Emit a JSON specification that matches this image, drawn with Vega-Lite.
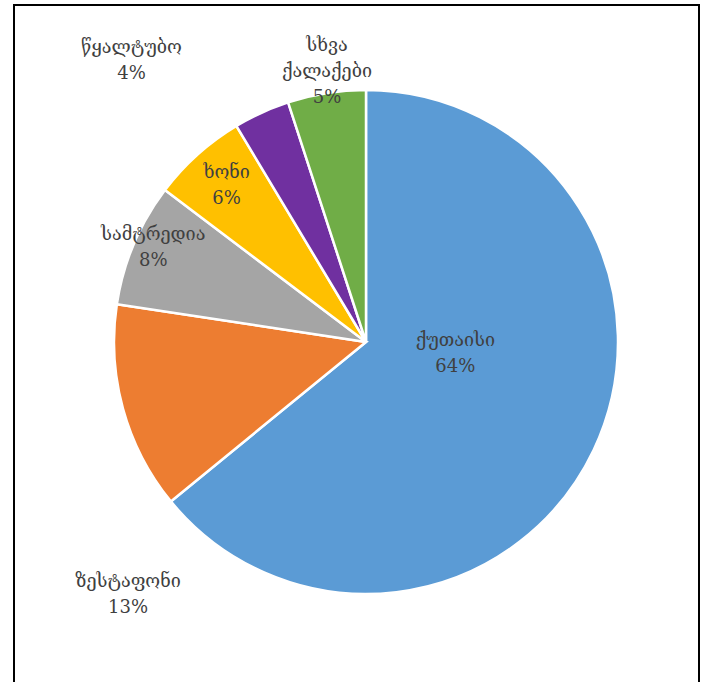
{
  "$schema": "https://vega.github.io/schema/vega-lite/v6.json",
  "width": 685,
  "height": 680,
  "autosize": {"type": "none"},
  "padding": {"left": 14, "top": 5, "right": 3, "bottom": 0},
  "background": "white",
  "config": {"view": {"stroke": null}},
  "layer": [
    {
      "data": {"values": [{"frame": "outer"}]},
      "mark": {"type": "rect", "fill": null, "stroke": "#000000", "strokeWidth": 2},
      "encoding": {
        "x": {"value": 0},
        "x2": {"value": "width"},
        "y": {"value": 0},
        "y2": {"value": "height"}
      }
    },
    {
      "data": {
        "values": [
          {"city": "ქუთაისი", "share": 64.1, "rank": 1},
          {"city": "ზესტაფონი", "share": 13.3, "rank": 2},
          {"city": "სამტრედია", "share": 7.9, "rank": 3},
          {"city": "ხონი", "share": 6.1, "rank": 4},
          {"city": "წყალტუბო", "share": 3.6, "rank": 5},
          {"city": "სხვა ქალაქები", "share": 5.0, "rank": 6}
        ]
      },
      "transform": [
        {"calculate": "replace(datum.city, ' ', '\\n') + '\\n' + round(datum.share) + '%'", "as": "label"}
      ],
      "encoding": {
        "theta": {"field": "share", "type": "quantitative", "stack": true},
        "order": {"field": "rank", "type": "quantitative"},
        "detail": {"field": "city", "type": "nominal"}
      },
      "layer": [
        {
          "mark": {"type": "arc", "outerRadius": 252, "stroke": "white", "strokeWidth": 2.5, "xOffset": 9.5, "yOffset": -3},
          "encoding": {
            "color": {
              "field": "city",
              "type": "nominal",
              "legend": null,
              "scale": {
                "domain": ["ქუთაისი", "ზესტაფონი", "სამტრედია", "ხონი", "წყალტუბო", "სხვა ქალაქები"],
                "range": ["#5B9BD5", "#ED7D31", "#A5A5A5", "#FFC000", "#7030A0", "#70AD47"]
              }
            }
          }
        },
        {
          "mark": {"type": "text", "radius": 90, "xOffset": 9.5, "yOffset": -3, "dx": 8, "dy": -40, "fontSize": 18, "lineHeight": 26, "lineBreak": "\n", "font": "DejaVu Serif, DejaVu Sans", "fill": "#404040", "align": "center", "baseline": "middle"},
          "encoding": {"text": {"condition": {"test": "datum.city == 'ქუთაისი'", "field": "label"}, "value": ""}}
        },
        {
          "mark": {"type": "text", "radius": 340, "xOffset": 9.5, "yOffset": -3, "dx": 90, "dy": 150, "fontSize": 18, "lineHeight": 26, "lineBreak": "\n", "font": "DejaVu Serif, DejaVu Sans", "fill": "#404040", "align": "center", "baseline": "middle"},
          "encoding": {"text": {"condition": {"test": "datum.city == 'ზესტაფონი'", "field": "label"}, "value": ""}}
        },
        {
          "mark": {"type": "text", "radius": 232, "xOffset": 9.5, "yOffset": -3, "dx": 1, "dy": -17, "fontSize": 18, "lineHeight": 26, "lineBreak": "\n", "font": "DejaVu Serif, DejaVu Sans", "fill": "#404040", "align": "center", "baseline": "middle"},
          "encoding": {"text": {"condition": {"test": "datum.city == 'სამტრედია'", "field": "label"}, "value": ""}}
        },
        {
          "mark": {"type": "text", "radius": 210, "xOffset": 9.5, "yOffset": -3, "dx": 1, "dy": -13, "fontSize": 18, "lineHeight": 26, "lineBreak": "\n", "font": "DejaVu Serif, DejaVu Sans", "fill": "#404040", "align": "center", "baseline": "middle"},
          "encoding": {"text": {"condition": {"test": "datum.city == 'ხონი'", "field": "label"}, "value": ""}}
        },
        {
          "mark": {"type": "text", "radius": 368, "xOffset": 9.5, "yOffset": -3, "dx": -82, "dy": 41, "fontSize": 18, "lineHeight": 26, "lineBreak": "\n", "font": "DejaVu Serif, DejaVu Sans", "fill": "#404040", "align": "center", "baseline": "middle"},
          "encoding": {"text": {"condition": {"test": "datum.city == 'წყალტუბო'", "field": "label"}, "value": ""}}
        },
        {
          "mark": {"type": "text", "radius": 275, "xOffset": 9.5, "yOffset": -3, "dx": 4, "dy": -24, "fontSize": 18, "lineHeight": 26, "lineBreak": "\n", "font": "DejaVu Serif, DejaVu Sans", "fill": "#404040", "align": "center", "baseline": "middle"},
          "encoding": {"text": {"condition": {"test": "datum.city == 'სხვა ქალაქები'", "field": "label"}, "value": ""}}
        }
      ]
    }
  ]
}
